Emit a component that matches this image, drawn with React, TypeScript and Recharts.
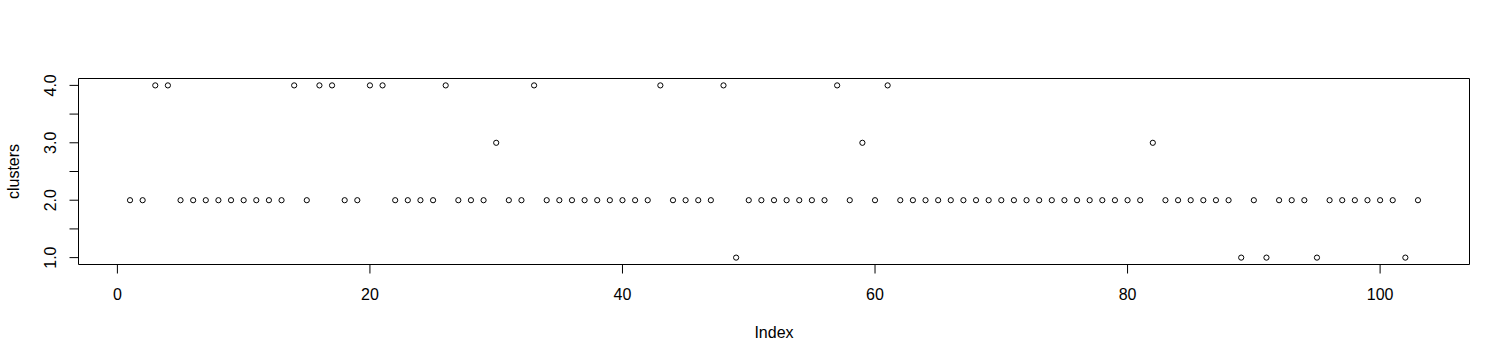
import React from "react";
import {
  ScatterChart,
  Scatter,
  XAxis,
  YAxis,
  ReferenceArea,
  Label,
} from "recharts";

const clusters = [
  2, 2, 4, 4, 2, 2, 2, 2, 2, 2, 2, 2, 2, 4, // 1-14
  2, 4, 4, 2, 2, 4, 4, 2, 2, 2, 2, 4, 2, 2, // 15-28
  2, 3, 2, 2, 4, 2, 2, 2, 2, 2, 2, 2, 2, 2, // 29-42
  4, 2, 2, 2, 2, 4, 1, 2, 2, 2, 2, 2, 2, 2, // 43-56
  4, 2, 3, 2, 4, 2, 2, 2, 2, 2, 2, 2, 2, 2, // 57-70
  2, 2, 2, 2, 2, 2, 2, 2, 2, 2, 2, 3, 2, 2, // 71-84
  2, 2, 2, 2, 1, 2, 1, 2, 2, 2, 1, 2, 2, 2, // 85-98
  2, 2, 2, 1, 2, // 99-103
];

const xTicks = [0, 20, 40, 60, 80, 100];
const yTicks = [1, 1.5, 2, 2.5, 3, 3.5, 4];
const yLabelTicks = [1, 2, 3, 4];
const xDomain = [-3.08, 107.08];
const yDomain = [0.88, 4.12];

const points = clusters.map((c, i) => ({ index: i + 1, cluster: c }));

const FONT = "'Liberation Sans', Arial, sans-serif";

const XTick = (props: any) => {
  const { x, y, payload } = props;
  return (
    <text x={x} y={y} dy={24} textAnchor="middle" fontSize={16} fontFamily={FONT} fill="#000">
      {payload.value}
    </text>
  );
};

const YTick = (props: any) => {
  const { x, y, payload } = props;
  if (!yLabelTicks.includes(payload.value)) return <g />;
  const bx = x - 11;
  return (
    <text
      x={bx}
      y={y}
      transform={`rotate(-90 ${bx} ${y})`}
      textAnchor="middle"
      fontSize={16}
      fontFamily={FONT}
      fill="#000"
    >
      {payload.value.toFixed(1)}
    </text>
  );
};

const OpenCircle = (props: any) => {
  const { cx, cy } = props;
  return <circle cx={cx} cy={cy} r={2.6} fill="none" stroke="#000" strokeWidth={1} />;
};

export default function App() {
  return (
    <div style={{ position: "absolute", left: 0, top: 0, background: "#fff" }}>
      <ScatterChart
        width={1510}
        height={362}
        margin={{ top: 78.5, right: 40.5, left: 28.5, bottom: 37.5 }}
      >
        <XAxis
          type="number"
          dataKey="index"
          domain={xDomain}
          ticks={xTicks}
          axisLine={false}
          tickLine={{ stroke: "#000" }}
          tickSize={9}
          tick={<XTick />}
          height={60}
          interval={0}
        >
          <Label
            content={(p: any) => (
              <text
                x={p.viewBox.x + p.viewBox.width / 2}
                y={338}
                textAnchor="middle"
                fontSize={16}
                fontFamily={FONT}
                fill="#000"
              >
                Index
              </text>
            )}
          />
        </XAxis>
        <YAxis
          type="number"
          dataKey="cluster"
          domain={yDomain}
          ticks={yTicks}
          axisLine={false}
          tickLine={{ stroke: "#000" }}
          tickSize={9}
          tick={<YTick />}
          width={50}
          interval={0}
        >
          <Label
            content={(p: any) => {
              const cy = p.viewBox.y + p.viewBox.height / 2;
              return (
                <text
                  x={19}
                  y={cy}
                  transform={`rotate(-90 19 ${cy})`}
                  textAnchor="middle"
                  fontSize={16}
                  fontFamily={FONT}
                  fill="#000"
                >
                  clusters
                </text>
              );
            }}
          />
        </YAxis>
        <ReferenceArea
          x1={xDomain[0]}
          x2={xDomain[1]}
          y1={yDomain[0]}
          y2={yDomain[1]}
          fill="none"
          stroke="#000"
          strokeWidth={1}
          fillOpacity={0}
        />
        <Scatter data={points} shape={<OpenCircle />} isAnimationActive={false} />
      </ScatterChart>
    </div>
  );
}
